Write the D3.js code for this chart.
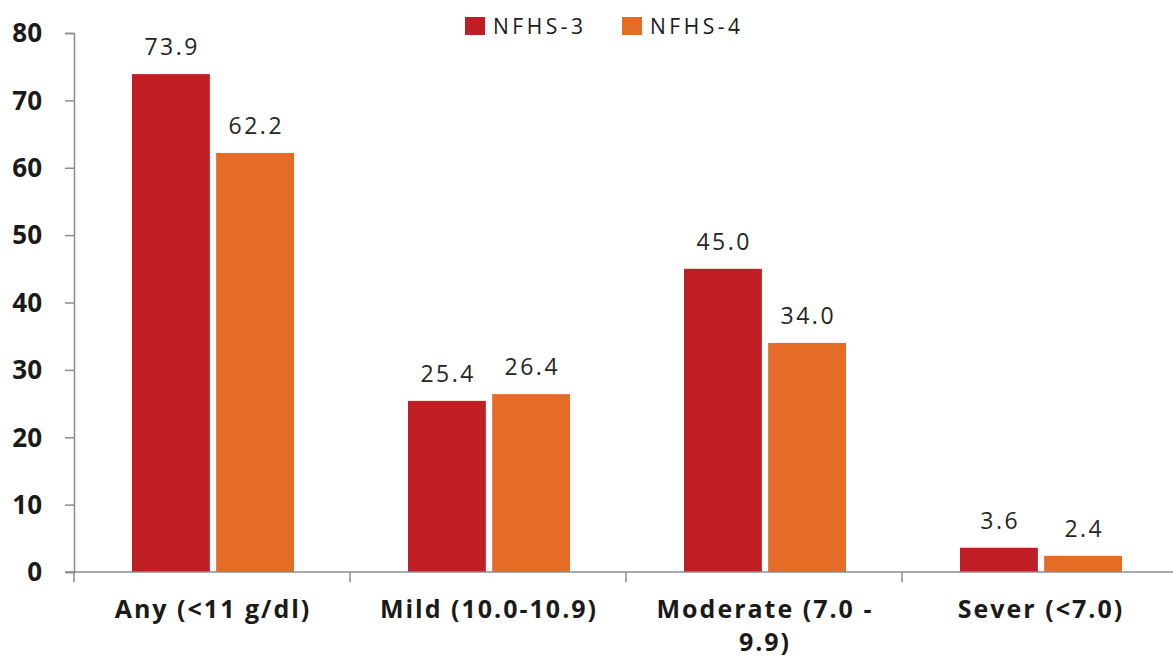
<!DOCTYPE html>
<html>
<head>
<meta charset="utf-8">
<script src="https://cdnjs.cloudflare.com/ajax/libs/d3/7.8.5/d3.min.js"></script>
<style>
  html, body { margin: 0; padding: 0; background: #fff; }
  svg { display: block; }
</style>
</head>
<body>
<svg id="chart" width="1173" height="662"></svg>
<script>
const categories = ["Any (<11 g/dl)", "Mild (10.0-10.9)", "Moderate (7.0 - 9.9)", "Sever (<7.0)"];
const seriesNames = ["NFHS-3", "NFHS-4"];
const nfhs3 = [73.9, 25.4, 45.0, 3.6];
const nfhs4 = [62.2, 26.4, 34.0, 2.4];
const yTicks = [0, 10, 20, 30, 40, 50, 60, 70, 80];
const colors = ["#BE1E24", "#E46C26"];

(function () {
const svg = d3.select("#chart");
const fontFam = "'Open Sans', 'DejaVu Sans', sans-serif";
const mLeft = 74, mRight = 1178, mTop = 33, mBottom = 572;

const x = d3.scaleBand().domain(categories).range([mLeft, mRight]).paddingInner(0).paddingOuter(0);
const xs = d3.scaleBand().domain(seriesNames).range([58, 220]).paddingInner(0.075);
const y = d3.scaleLinear().domain([0, 80]).range([mBottom, mTop]);

const seriesVals = [nfhs3, nfhs4];
const dlSpacing = 2.5;

// Bars
seriesNames.forEach((s, si) => {
  const g = svg.append("g");
  g.selectAll("rect").data(categories).enter().append("rect")
    .attr("x", d => x(d) + xs(s))
    .attr("y", (d, i) => y(seriesVals[si][i]))
    .attr("width", xs.bandwidth())
    .attr("height", (d, i) => y(0) - y(seriesVals[si][i]))
    .attr("fill", colors[si]);
  g.selectAll("text").data(categories).enter().append("text")
    .attr("x", d => x(d) + xs(s) + xs.bandwidth() / 2 + dlSpacing / 2)
    .attr("y", (d, i) => y(seriesVals[si][i]) - 19)
    .attr("text-anchor", "middle")
    .attr("font-family", fontFam)
    .attr("font-size", 23)
    .attr("letter-spacing", dlSpacing)
    .attr("fill", "#262626")
    .text((d, i) => seriesVals[si][i].toFixed(1));
});

// Y axis
const yAxis = d3.axisLeft(y).tickValues(yTicks).tickSize(9).tickPadding(23).tickFormat(d3.format("d"));
const yg = svg.append("g").attr("transform", `translate(${mLeft},0)`).call(yAxis);
yg.select(".domain").attr("stroke", "#8c8c8c").attr("stroke-width", 1.5);
yg.selectAll(".tick line").attr("stroke", "#8c8c8c").attr("stroke-width", 1.5);
yg.selectAll(".tick text").attr("font-family", fontFam).attr("font-size", 26)
  .attr("font-weight", "bold").attr("fill", "#1a1a1a").attr("dy", "0.34em");

// X axis
const xAxis = d3.axisBottom(x).tickSize(0).tickFormat("");
const xg = svg.append("g").attr("transform", `translate(0,${mBottom})`).call(xAxis);
xg.select(".domain").attr("d", `M${mLeft - 9},0H1173`).attr("stroke", "#8c8c8c").attr("stroke-width", 1.5);
const bounds = categories.map(c => x(c));
xg.selectAll("line.bound").data(bounds).enter().append("line")
  .attr("class", "bound")
  .attr("x1", d => d).attr("x2", d => d)
  .attr("y1", 0).attr("y2", 10)
  .attr("stroke", "#8c8c8c").attr("stroke-width", 1.5);

const catSize = 25, catSpacing = 2;
function wrapLines(text, maxW) {
  const words = text.split(" ");
  const lines = [];
  let cur = "";
  const meas = svg.append("text").attr("font-family", fontFam).attr("font-size", catSize)
    .attr("font-weight", "bold").attr("letter-spacing", catSpacing);
  words.forEach(w => {
    const t = cur ? cur + " " + w : w;
    meas.text(t);
    if (meas.node().getComputedTextLength() > maxW && cur) {
      lines.push(cur); cur = w;
    } else cur = t;
  });
  lines.push(cur);
  meas.remove();
  return lines;
}
categories.forEach(c => {
  const lines = wrapLines(c, 250);
  const cx = x(c) + x.bandwidth() / 2 + catSpacing / 2;
  const t = svg.append("text")
    .attr("x", cx)
    .attr("y", 618)
    .attr("text-anchor", "middle")
    .attr("font-family", fontFam).attr("font-size", catSize).attr("font-weight", "bold")
    .attr("letter-spacing", catSpacing)
    .attr("fill", "#1a1a1a");
  lines.forEach((l, i) => {
    t.append("tspan").attr("x", cx).attr("dy", i === 0 ? 0 : 33).text(l);
  });
});

// Legend
const legendX = [465, 622];
seriesNames.forEach((s, i) => {
  const g = svg.append("g").attr("transform", `translate(${legendX[i]},17)`);
  g.append("rect").attr("width", 20).attr("height", 18).attr("fill", colors[i]);
  g.append("text").attr("x", 28).attr("y", 17)
    .attr("font-family", fontFam).attr("font-size", 21).attr("letter-spacing", 3.5)
    .attr("fill", "#1a1a1a").text(s);
});
})();
</script>
</body>
</html>
